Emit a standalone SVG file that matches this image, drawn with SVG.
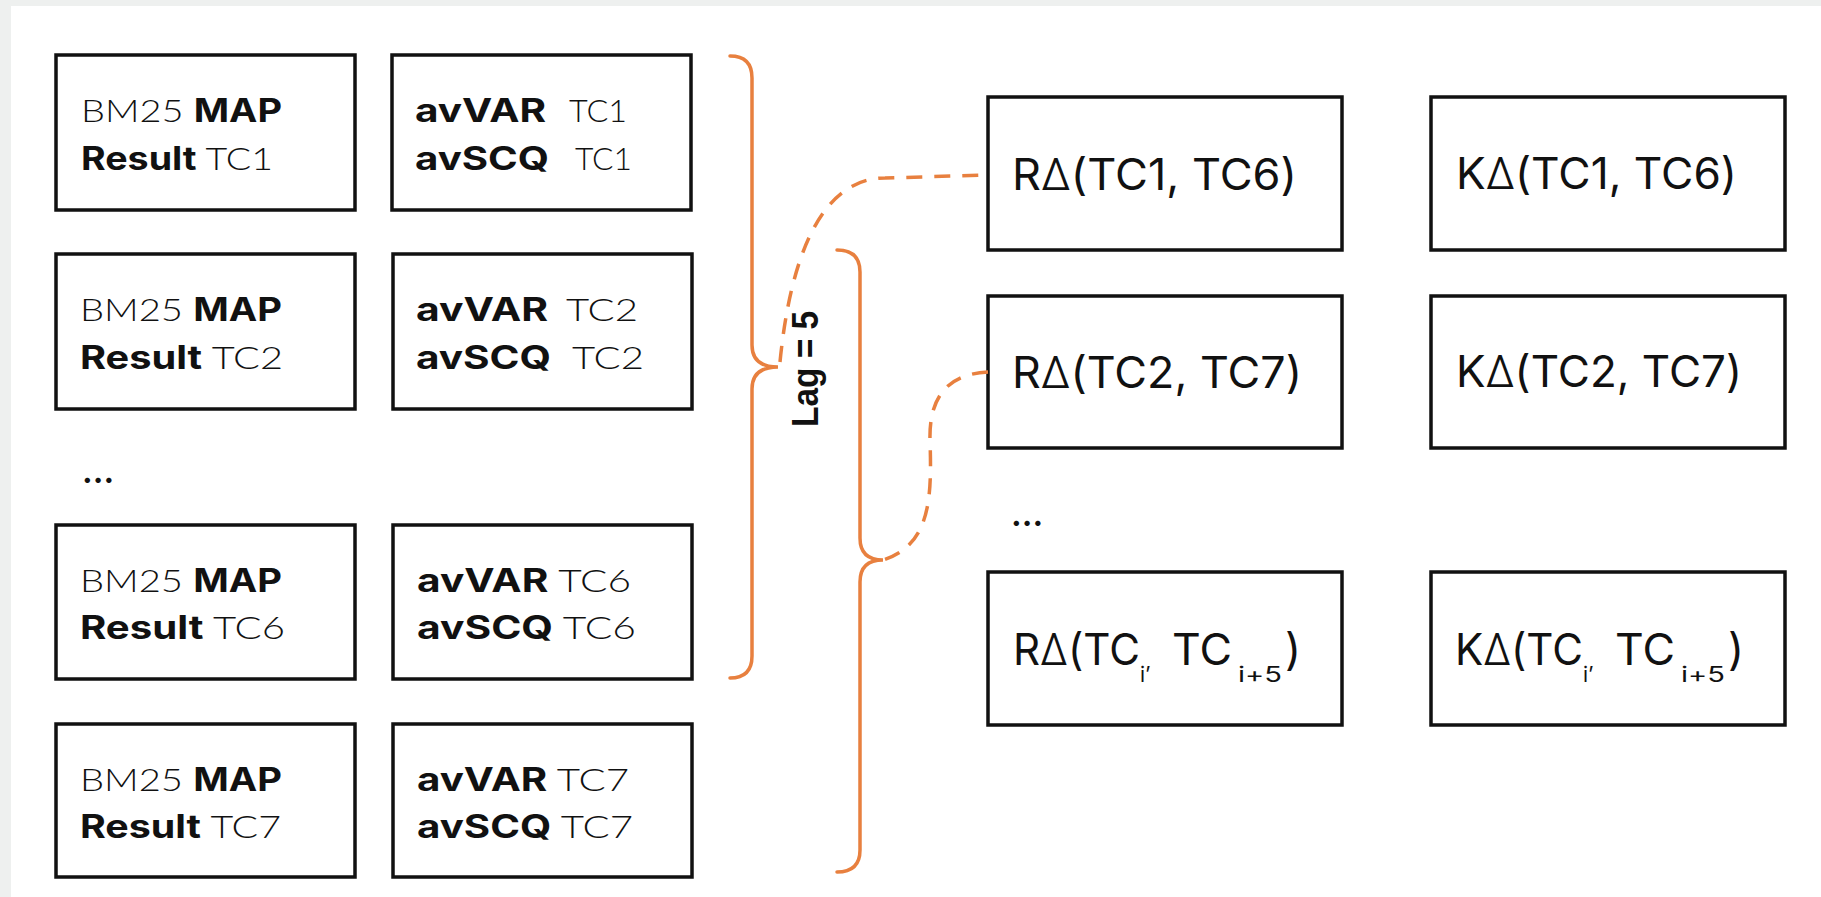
<svg xmlns="http://www.w3.org/2000/svg" width="1821" height="897" viewBox="0 0 1821 897">
  <style>
    .box { fill: #ffffff; stroke: #111111; stroke-width: 3.5; }
    .t { font-family: Inter, "Open Sans", "Liberation Sans", sans-serif; fill: #111111; }
    .s { font-size: 32px; }
    .big { font-size: 44px; font-weight: 400; }
    .sub { font-size: 21px; font-weight: 400; }
    .l { font-family: Lato, Inter, "Liberation Sans", sans-serif; font-weight: 300; }
    .d { font-weight: 300; }
    .b { font-weight: 700; }
    .brace { fill: none; stroke: #E8803F; stroke-width: 3.5; stroke-linecap: round; }
    .dash { fill: none; stroke: #E8803F; stroke-width: 3.5; stroke-dasharray: 16 12; }
    .lag { font-family: "Liberation Sans", Arial, sans-serif; font-weight: 700; font-size: 36px; fill: #111111; }
  </style>

  <!-- page -->
  <rect x="0" y="0" width="1821" height="897" fill="#eef0ef"/>
  <rect x="11" y="6" width="1810" height="891" fill="#ffffff"/>

  <!-- BM25 result boxes -->
  <g id="bm25-tc1">
    <rect class="box" x="56" y="55" width="299" height="155"/>
    <text class="t s" x="81" y="122" textLength="201" lengthAdjust="spacingAndGlyphs"><tspan class="l">BM25 </tspan><tspan class="b">MAP</tspan></text>
    <text class="t s" x="81" y="170" textLength="192" lengthAdjust="spacingAndGlyphs"><tspan class="b">Result</tspan><tspan class="l"> TC1</tspan></text>
  </g>
  <g id="bm25-tc2">
    <rect class="box" x="56" y="254" width="299" height="155"/>
    <text class="t s" x="80" y="321" textLength="202" lengthAdjust="spacingAndGlyphs"><tspan class="l">BM25 </tspan><tspan class="b">MAP</tspan></text>
    <text class="t s" x="80" y="369" textLength="203" lengthAdjust="spacingAndGlyphs"><tspan class="b">Result</tspan><tspan class="l"> TC2</tspan></text>
  </g>
  <g id="bm25-tc6">
    <rect class="box" x="56" y="525" width="299" height="154"/>
    <text class="t s" x="80" y="592" textLength="202" lengthAdjust="spacingAndGlyphs"><tspan class="l">BM25 </tspan><tspan class="b">MAP</tspan></text>
    <text class="t s" x="80" y="639" textLength="205" lengthAdjust="spacingAndGlyphs"><tspan class="b">Result</tspan><tspan class="l"> TC6</tspan></text>
  </g>
  <g id="bm25-tc7">
    <rect class="box" x="56" y="724" width="299" height="153"/>
    <text class="t s" x="80" y="791" textLength="202" lengthAdjust="spacingAndGlyphs"><tspan class="l">BM25 </tspan><tspan class="b">MAP</tspan></text>
    <text class="t s" x="80" y="838" textLength="201" lengthAdjust="spacingAndGlyphs"><tspan class="b">Result</tspan><tspan class="l"> TC7</tspan></text>
  </g>

  <!-- query feature boxes -->
  <g id="feat-tc1">
    <rect class="box" x="392" y="55" width="299" height="155"/>
    <text class="t s b" x="415" y="122" textLength="131" lengthAdjust="spacingAndGlyphs">avVAR</text>
    <text class="t s l" x="569" y="122" textLength="58" lengthAdjust="spacingAndGlyphs">TC1</text>
    <text class="t s b" x="415" y="170" textLength="134" lengthAdjust="spacingAndGlyphs">avSCQ</text>
    <text class="t s l" x="575" y="170" textLength="57" lengthAdjust="spacingAndGlyphs">TC1</text>
  </g>
  <g id="feat-tc2">
    <rect class="box" x="393" y="254" width="299" height="155"/>
    <text class="t s b" x="416" y="321" textLength="132" lengthAdjust="spacingAndGlyphs">avVAR</text>
    <text class="t s l" x="566" y="321" textLength="72" lengthAdjust="spacingAndGlyphs">TC2</text>
    <text class="t s b" x="416" y="369" textLength="135" lengthAdjust="spacingAndGlyphs">avSCQ</text>
    <text class="t s l" x="572" y="369" textLength="72" lengthAdjust="spacingAndGlyphs">TC2</text>
  </g>
  <g id="feat-tc6">
    <rect class="box" x="393" y="525" width="299" height="154"/>
    <text class="t s" x="417" y="592" textLength="214" lengthAdjust="spacingAndGlyphs"><tspan class="b">avVAR</tspan><tspan class="l"> TC6</tspan></text>
    <text class="t s" x="417" y="639" textLength="219" lengthAdjust="spacingAndGlyphs"><tspan class="b">avSCQ</tspan><tspan class="l"> TC6</tspan></text>
  </g>
  <g id="feat-tc7">
    <rect class="box" x="393" y="724" width="299" height="153"/>
    <text class="t s" x="417" y="791" textLength="212" lengthAdjust="spacingAndGlyphs"><tspan class="b">avVAR</tspan><tspan class="l"> TC7</tspan></text>
    <text class="t s" x="417" y="838" textLength="216" lengthAdjust="spacingAndGlyphs"><tspan class="b">avSCQ</tspan><tspan class="l"> TC7</tspan></text>
  </g>

  <g id="ellipsis-left">
    <text class="t s b" x="82" y="483">...</text>
  </g>

  <!-- lagged deltas -->
  <g id="r-tc1-tc6">
    <rect class="box" x="988" y="97" width="354" height="153"/>
    <text class="t big" x="1012" y="190" textLength="285" lengthAdjust="spacingAndGlyphs">R<tspan class="d">Δ</tspan>(TC1, TC6)</text>
  </g>
  <g id="k-tc1-tc6">
    <rect class="box" x="1431" y="97" width="354" height="153"/>
    <text class="t big" x="1456" y="189" textLength="281" lengthAdjust="spacingAndGlyphs">K<tspan class="d">Δ</tspan>(TC1, TC6)</text>
  </g>
  <g id="r-tc2-tc7">
    <rect class="box" x="988" y="296" width="354" height="152"/>
    <text class="t big" x="1012" y="388" textLength="290" lengthAdjust="spacingAndGlyphs">R<tspan class="d">Δ</tspan>(TC2, TC7)</text>
  </g>
  <g id="k-tc2-tc7">
    <rect class="box" x="1431" y="296" width="354" height="152"/>
    <text class="t big" x="1456" y="387" textLength="286" lengthAdjust="spacingAndGlyphs">K<tspan class="d">Δ</tspan>(TC2, TC7)</text>
  </g>
  <g id="ellipsis-right">
    <text class="t s b" x="1011" y="526">...</text>
  </g>
  <g id="r-tci">
    <rect class="box" x="988" y="572" width="354" height="153"/>
    <text class="t big" x="1013" y="665" textLength="127" lengthAdjust="spacingAndGlyphs">R<tspan class="d">Δ</tspan>(TC</text>
    <text class="t sub" x="1140" y="682">i’</text>
    <text class="t big" x="1172" y="665" textLength="60" lengthAdjust="spacingAndGlyphs">TC</text>
    <text class="t sub" x="1238" y="682" textLength="44" lengthAdjust="spacingAndGlyphs">i+5</text>
    <text class="t big" x="1285" y="665">)</text>
  </g>
  <g id="k-tci">
    <rect class="box" x="1431" y="572" width="354" height="153"/>
    <text class="t big" x="1455" y="665" textLength="128" lengthAdjust="spacingAndGlyphs">K<tspan class="d">Δ</tspan>(TC</text>
    <text class="t sub" x="1583" y="682">i’</text>
    <text class="t big" x="1615" y="665" textLength="60" lengthAdjust="spacingAndGlyphs">TC</text>
    <text class="t sub" x="1681" y="682" textLength="44" lengthAdjust="spacingAndGlyphs">i+5</text>
    <text class="t big" x="1728" y="665">)</text>
  </g>

  <!-- braces, lag label and links -->
  <g id="connectors">
    <path class="brace" d="M 730 56 Q 752 56 752 78 L 752 345 Q 752 367 778 367 Q 752 367 752 389 L 752 656 Q 752 678 730 678"/>
    <path class="brace" d="M 837 250 Q 860 250 860 272 L 860 538 Q 860 560 883 560 Q 860 560 860 582 L 860 850 Q 860 872 837 872"/>
    <path class="dash" d="M 780 362 C 790 260, 820 178, 885 178 L 988 175"/>
    <path class="dash" d="M 988 372 C 945 374, 929 400, 930 440 C 932 500, 930 545, 883 560"/>
    <text class="lag" transform="translate(818,369) rotate(-90)" text-anchor="middle" textLength="116" lengthAdjust="spacingAndGlyphs">Lag = 5</text>
  </g>
</svg>
